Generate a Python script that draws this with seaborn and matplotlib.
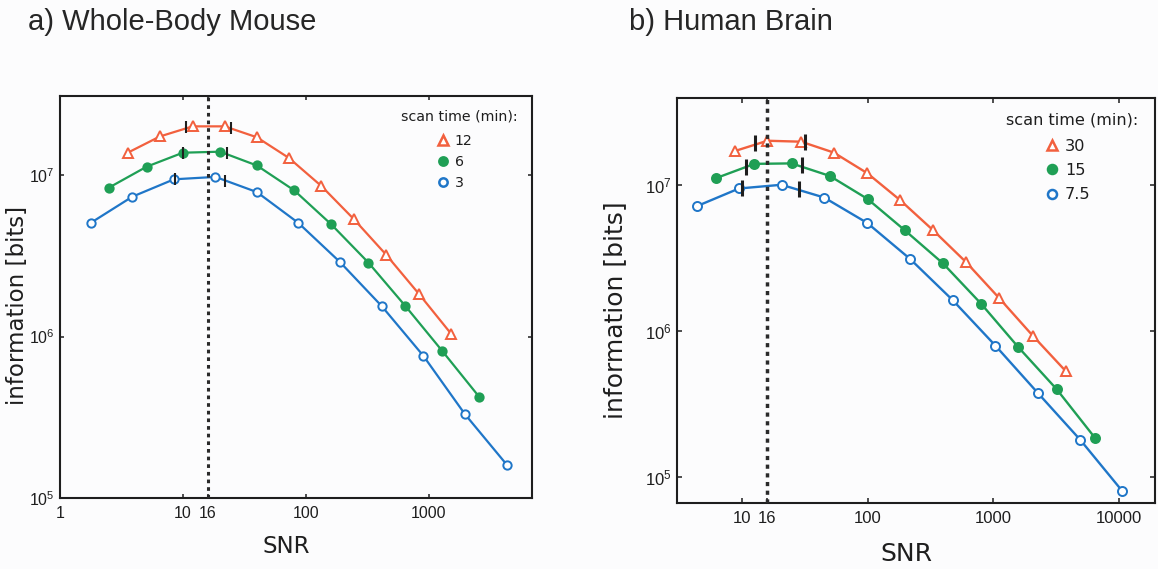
import numpy as np
import pandas as pd
import seaborn as sns
import matplotlib
matplotlib.use("Agg")
import matplotlib.pyplot as plt
from matplotlib.lines import Line2D

# a) whole-body mouse  (scan time 12 / 6 / 3 min)
mouse_snr_12 = [3.56, 6.5, 12, 21.9, 40, 73, 134, 245, 451, 829, 1527]
mouse_info_12 = [1.38e7, 1.74e7, 2.01e7, 2.01e7, 1.72e7, 1.28e7, 8.58e6, 5.37e6, 3.22e6, 1.85e6, 1.04e6]
mouse_snr_6 = [2.5, 5.07, 10, 20.1, 40, 80.6, 161, 323, 646, 1283, 2570]
mouse_info_6 = [8.38e6, 1.13e7, 1.38e7, 1.40e7, 1.15e7, 8.06e6, 4.97e6, 2.88e6, 1.55e6, 8.2e5, 4.25e5]
mouse_snr_3 = [1.78, 3.87, 8.47, 18.4, 40, 87, 189, 414, 907, 1973, 4320]
mouse_info_3 = [5.07e6, 7.36e6, 9.44e6, 9.77e6, 7.87e6, 5.07e6, 2.91e6, 1.55e6, 7.6e5, 3.31e5, 1.61e5]
# range marks on the mouse curves
mouse_bar_snr = [10.6, 24.6, 10, 23, 8.6, 22]
mouse_bar_info = [1.98e7, 1.95e7, 1.38e7, 1.37e7, 9.44e6, 9.2e6]

# b) human brain  (scan time 30 / 15 / 7.5 min)
brain_snr_30 = [8.8, 16, 29.7, 53.9, 99.5, 182, 331, 609, 1120, 2056, 3780]
brain_info_30 = [1.70e7, 2.0e7, 1.97e7, 1.66e7, 1.20e7, 7.84e6, 4.9e6, 2.95e6, 1.67e6, 9.3e5, 5.3e5]
brain_snr_15 = [6.24, 12.6, 24.9, 50, 100, 198, 398, 798, 1579, 3190, 6400]
brain_info_15 = [1.11e7, 1.39e7, 1.40e7, 1.15e7, 8.0e6, 4.88e6, 2.9e6, 1.54e6, 7.76e5, 4.0e5, 1.87e5]
brain_snr_75 = [4.38, 9.5, 20.7, 45.2, 99.5, 218, 474, 1037, 2260, 4920, 10540]
brain_info_75 = [7.13e6, 9.43e6, 1.0e7, 8.18e6, 5.48e6, 3.11e6, 1.63e6, 7.96e5, 3.77e5, 1.8e5, 8.1e4]
brain_bar_snr = [12.8, 31.8, 10.9, 29.9, 10, 28.5]
brain_bar_info = [1.93e7, 1.95e7, 1.33e7, 1.36e7, 9.43e6, 9.38e6]

mouse_times = ["12", "6", "3"]
brain_times = ["30", "15", "7.5"]
mouse_xticks = [1, 10, 16, 100, 1000]
brain_xticks = [10, 16, 100, 1000, 10000]
yticks = [1e5, 1e6, 1e7]
ytick_labels = [r"$\mathregular{10^{5}}$", r"$\mathregular{10^{6}}$", r"$\mathregular{10^{7}}$"]


def make_df(times, snrs, infos):
    parts = []
    for t, s, i in zip(times, snrs, infos):
        parts.append(pd.DataFrame({"time": t, "snr": s, "info": i}))
    return pd.concat(parts, ignore_index=True)


mouse = make_df(mouse_times, [mouse_snr_12, mouse_snr_6, mouse_snr_3],
                [mouse_info_12, mouse_info_6, mouse_info_3])
brain = make_df(brain_times, [brain_snr_30, brain_snr_15, brain_snr_75],
                [brain_info_30, brain_info_15, brain_info_75])

sns.set_style("ticks")
plt.rcParams["font.family"] = ["DejaVu Sans"]
plt.rcParams["mathtext.fontset"] = "custom"
plt.rcParams["mathtext.rm"] = "Liberation Sans"
plt.rcParams["mathtext.it"] = "Liberation Sans:italic"
plt.rcParams["mathtext.bf"] = "Liberation Sans:bold"

RED = "#f2603e"
GREEN = "#1f9f55"
BLUE = "#1f76c8"
INK = "#1e1e1e"
BG = "#fcfcfd"

styles = [
    dict(color=RED, marker="^", markerfacecolor="white", markeredgecolor=RED),
    dict(color=GREEN, marker="o", markerfacecolor=GREEN, markeredgecolor=GREEN),
    dict(color=BLUE, marker="o", markerfacecolor="white", markeredgecolor=BLUE),
]

fig = plt.figure(figsize=(11.58, 5.69), dpi=100, facecolor=BG)
ax1 = fig.add_axes([0.0518, 0.1248, 0.4076, 0.7065])
ax2 = fig.add_axes([0.5844, 0.1165, 0.4130, 0.7107])

panels = [
    dict(ax=ax1, df=mouse, times=mouse_times, xlim=(1, 6940), ylim=(1e5, 3.1e7),
         xticks=mouse_xticks, bx=mouse_bar_snr, by=mouse_bar_info,
         ms=[6.5, 6, 6], lw=1.6, bar_ms=9, bar_mew=1.5, dot_lw=2.2, tick_len=3,
         lab_fs=16.5, tick_fs=11.5, leg_fs=10.2,
         leg_title=(0.970, 0.950), leg_anchor=(0.797, 0.906), leg_space=0.5,
         ylab=(-0.090, 0.478), xlab=(0.479, -0.121)),
    dict(ax=ax2, df=brain, times=brain_times, xlim=(3.04, 19300), ylim=(6.7e4, 3.9e7),
         xticks=brain_xticks, bx=brain_bar_snr, by=brain_bar_info,
         ms=[7, 6.5, 6.5], lw=1.7, bar_ms=11, bar_mew=2.2, dot_lw=2.5, tick_len=3.6,
         lab_fs=18, tick_fs=12, leg_fs=11.6,
         leg_title=(0.9645, 0.946), leg_anchor=(0.768, 0.900), leg_space=0.58,
         ylab=(-0.129, 0.476), xlab=(0.481, -0.128)),
]

for p in panels:
    ax = p["ax"]
    ax.set_facecolor(BG)
    handles = []
    for t, st, ms in zip(p["times"], styles, p["ms"]):
        sub = p["df"][p["df"]["time"] == t]
        sns.lineplot(data=sub, x="snr", y="info", ax=ax, estimator=None, sort=False,
                     legend=False, linewidth=p["lw"], markersize=ms,
                     markeredgewidth=1.4, zorder=2, **st)
        handles.append(Line2D([], [], ls="none", marker=st["marker"], markersize=ms,
                              markerfacecolor=st["markerfacecolor"],
                              markeredgecolor=st["markeredgecolor"], markeredgewidth=1.8))
    ax.plot(p["bx"], p["by"], ls="none", marker="|", markersize=p["bar_ms"],
            markeredgewidth=p["bar_mew"], color=INK, zorder=4)
    ax.axvline(16, color="#2a2a2a", ls=(0, (1.2, 1.3)), lw=p["dot_lw"], zorder=3)

    ax.set_xscale("log")
    ax.set_yscale("log")
    ax.set_xlim(*p["xlim"])
    ax.set_ylim(*p["ylim"])
    ax.set_xticks(p["xticks"])
    ax.set_xticklabels([str(v) for v in p["xticks"]])
    ax.set_yticks(yticks)
    ax.set_yticklabels(ytick_labels)
    ax.minorticks_off()
    ax.tick_params(direction="in", top=True, right=True, length=p["tick_len"], width=1.1,
                   color=INK, labelcolor=INK, labelsize=p["tick_fs"], pad=6)
    ax.tick_params(axis="y", pad=4)
    for lbl in ax.get_xticklabels() + ax.get_yticklabels():
        lbl.set_family("Liberation Sans")
    for sp in ax.spines.values():
        sp.set_visible(True)
        sp.set_linewidth(1.5)
        sp.set_color(INK)

    ax.set_xlabel("SNR", fontsize=p["lab_fs"], color=INK)
    ax.set_ylabel("information [bits]", fontsize=p["lab_fs"], color=INK)
    ax.xaxis.label.set_va("center")
    ax.yaxis.label.set_va("center")
    ax.xaxis.set_label_coords(*p["xlab"])
    ax.yaxis.set_label_coords(*p["ylab"])

    ax.text(*p["leg_title"], "scan time (min):", transform=ax.transAxes, ha="right",
            va="center", fontsize=p["leg_fs"], color=INK)
    ax.legend(handles, p["times"], loc="upper left", bbox_to_anchor=p["leg_anchor"],
              frameon=False, fontsize=p["leg_fs"], handlelength=1.0, handletextpad=0.3,
              borderpad=0, borderaxespad=0, labelspacing=p["leg_space"], labelcolor=INK)

fig.text(28 / 1158, 1 - 22 / 569, "a) Whole-Body Mouse", family="Liberation Sans",
         fontsize=21, color="#262626", ha="left", va="center")
fig.text(629 / 1158, 1 - 22 / 569, "b) Human Brain", family="Liberation Sans",
         fontsize=21, color="#262626", ha="left", va="center")

fig.savefig("out.png", dpi=100, facecolor=BG)
